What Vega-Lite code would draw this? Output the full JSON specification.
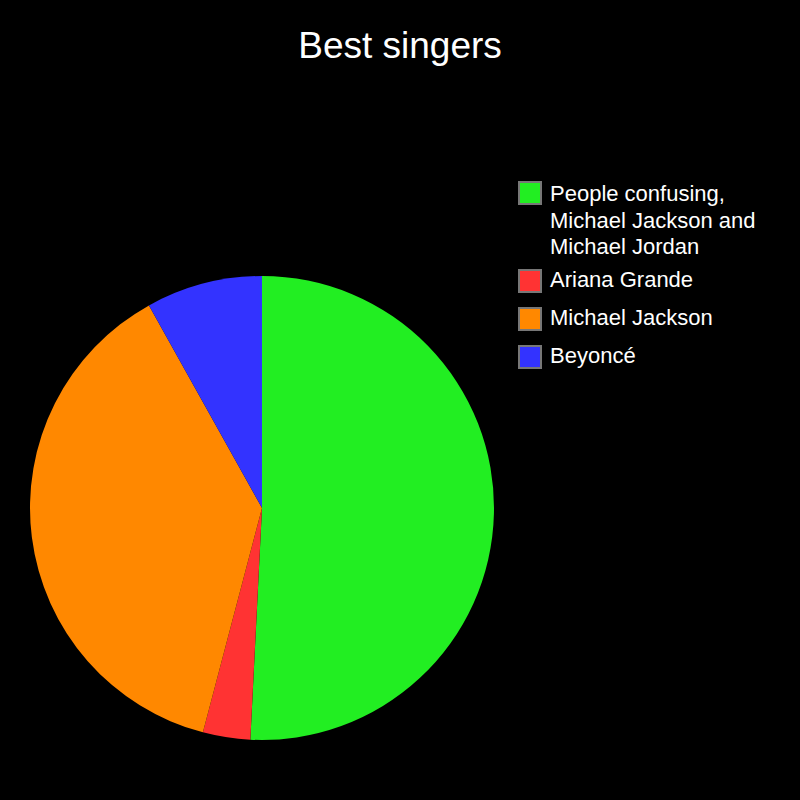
{
  "$schema": "https://vega.github.io/schema/vega-lite/v6.json",
  "autosize": {"type": "none"},
  "width": 464,
  "height": 464,
  "padding": {"left": 30, "top": 276, "right": 306, "bottom": 60},
  "background": "#000000",
  "title": {
    "text": "Best singers",
    "color": "#ffffff",
    "font": "Liberation Sans",
    "fontSize": 37,
    "fontWeight": "normal",
    "anchor": "middle",
    "frame": "group",
    "dx": 138,
    "offset": 115
  },
  "data": {
    "values": [
      {"singer": "People confusing, Michael Jackson and Michael Jordan", "votes": 50.8, "order": 1},
      {"singer": "Ariana Grande", "votes": 3.3, "order": 2},
      {"singer": "Michael Jackson", "votes": 37.8, "order": 3},
      {"singer": "Beyoncé", "votes": 8.1, "order": 4}
    ]
  },
  "mark": {"type": "arc", "strokeWidth": 0},
  "encoding": {
    "theta": {"field": "votes", "type": "quantitative", "stack": true},
    "order": {"field": "order", "type": "quantitative"},
    "color": {
      "field": "singer",
      "type": "nominal",
      "scale": {
        "domain": ["People confusing, Michael Jackson and Michael Jordan", "Ariana Grande", "Michael Jackson", "Beyoncé"],
        "range": ["#22ee22", "#ff3333", "#ff8800", "#3333ff"]
      },
      "legend": {
        "title": null,
        "orient": "none",
        "legendX": 488,
        "legendY": -95,
        "padding": 0,
        "symbolType": "square",
        "symbolSize": 484,
        "symbolStrokeWidth": 2,
        "symbolStrokeColor": "#777777",
        "symbolOpacity": 1,
        "labelBaseline": "top",
        "labelColor": "#ffffff",
        "labelFont": "Liberation Sans",
        "labelFontSize": 22,
        "labelLimit": 400,
        "labelOffset": 8,
        "rowPadding": 8,
        "labelExpr": "datum.label == 'People confusing, Michael Jackson and Michael Jordan' ? ['People confusing,', 'Michael Jackson and', 'Michael Jordan'] : datum.label",
        "encode": {
          "labels": {"update": {"dy": {"signal": "datum.index == 0 ? -9 : -11"}, "lineHeight": {"value": 26.5}}}
        }
      }
    }
  },
  "config": {"view": {"stroke": null}}
}
